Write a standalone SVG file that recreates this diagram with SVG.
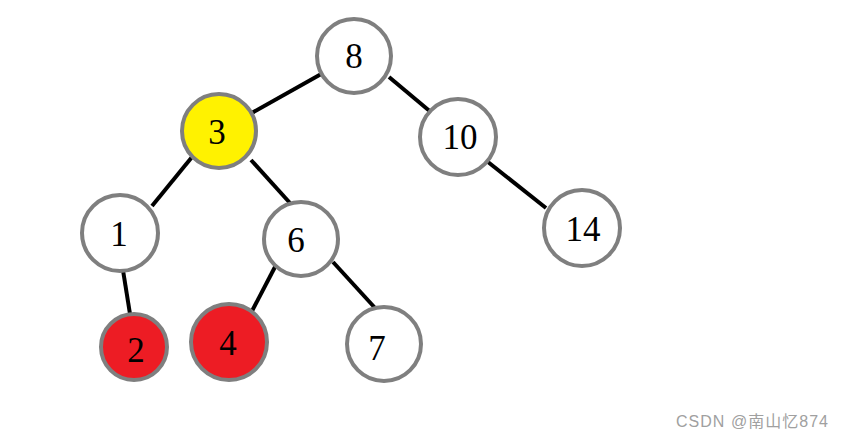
<svg xmlns="http://www.w3.org/2000/svg" width="842" height="439" viewBox="0 0 842 439">
<style>
.n{fill:#fff;stroke:#7f7f7f;stroke-width:4}
.y{fill:#fff200}
.r{fill:#ed1c24}
.t{font-family:"Liberation Serif","DejaVu Serif",serif;font-size:35px;fill:#000;text-anchor:middle}
.e{stroke:#000;stroke-width:4;stroke-linecap:butt}
.w{font-family:"Liberation Sans","Noto Sans CJK SC",sans-serif;font-size:16px;fill:#a0a0a0}
</style>
<rect width="842" height="439" fill="#fff"/>
<g id="edges">
<line class="e" x1="323" y1="73" x2="250" y2="114"/>
<line class="e" x1="389" y1="77" x2="432" y2="113"/>
<line class="e" x1="192" y1="157" x2="152" y2="206"/>
<line class="e" x1="251" y1="160" x2="290" y2="203"/>
<line class="e" x1="488" y1="162" x2="546" y2="208"/>
<line class="e" x1="122" y1="264" x2="130" y2="314"/>
<line class="e" x1="276" y1="265" x2="251" y2="313"/>
<line class="e" x1="333" y1="262" x2="376" y2="309"/>
</g>
<g id="n8"><circle class="n" cx="354" cy="56" r="37"/><text class="t" x="354" y="68">8</text></g>
<g id="n3"><circle class="n y" cx="219" cy="131" r="37"/><text class="t" x="217" y="144">3</text></g>
<g id="n10"><circle class="n" cx="458" cy="137" r="38"/><text class="t" x="460" y="149">10</text></g>
<g id="n1"><circle class="n" cx="120" cy="233" r="38"/><text class="t" x="119" y="246">1</text></g>
<g id="n6"><circle class="n" cx="301" cy="239" r="37"/><text class="t" x="296" y="252">6</text></g>
<g id="n14"><circle class="n" cx="582" cy="228" r="38"/><text class="t" x="583" y="241">14</text></g>
<g id="n2"><circle class="n r" cx="134" cy="347" r="33"/><text class="t" x="136" y="362">2</text></g>
<g id="n4"><circle class="n r" cx="229" cy="342" r="38"/><text class="t" x="228" y="355">4</text></g>
<g id="n7"><circle class="n" cx="384" cy="344" r="37"/><text class="t" x="377" y="360">7</text></g>
<text class="w" x="676" y="427" textLength="152">CSDN @南山忆874</text>
</svg>
